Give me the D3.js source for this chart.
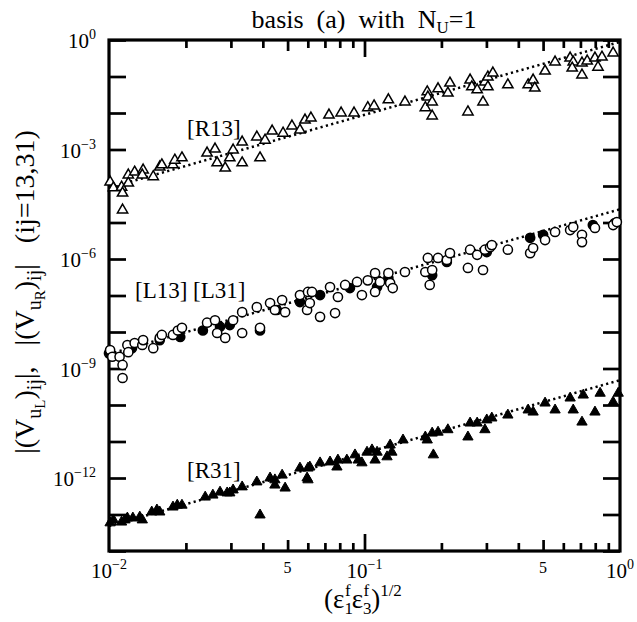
<!DOCTYPE html>
<html>
<head>
<meta charset="utf-8">
<script src="https://cdn.jsdelivr.net/npm/d3@7"></script>
<style>
  body { margin: 0; background: #fff; }
  text { font-family: "Liberation Serif", "Times New Roman", serif; fill: #000; }
</style>
</head>
<body>
<svg id="chart" width="637" height="622"></svg>
<script>
// [x, |V|] pairs
const r13 = [
  [0.0101,1.29e-4],[0.0104,8.9e-5],[0.0112,9.3e-5],[0.0113,6.4e-5],[0.0113,2.2e-5],[0.0119,2.0e-4],
  [0.0119,1.2e-4],[0.0126,2.4e-4],[0.0136,2.75e-4],[0.0135,2.0e-4],[0.0149,1.8e-4],[0.0158,3.3e-4],
  [0.0161,3.8e-4],[0.0178,3.8e-4],[0.0181,5.1e-4],[0.0193,5.9e-4],[0.0242,8.0e-4],[0.0260,1.03e-3],
  [0.0265,4.3e-4],[0.0285,3.1e-4],[0.0297,5.9e-4],[0.0306,9.7e-4],[0.0332,1.6e-3],[0.0332,4.3e-4],
  [0.0379,2.2e-3],[0.039,5.9e-4],[0.0408,1.8e-3],[0.0435,3.2e-3],[0.048,2.8e-3],[0.052,4.4e-3],
  [0.0559,3.4e-3],[0.0585,6.4e-3],
  [0.0617,7.3e-3],[0.0726,8.8e-3],[0.081,1.0e-2],[0.091,1.0e-2],[0.103,1.4e-2],[0.109,1.56e-2],[0.124,2.3e-2],
  [0.144,2.0e-2],[0.176,3.8e-2],[0.177,2.75e-2],[0.173,1.4e-2],[0.184,2.0e-2],[0.184,8.3e-3],
  [0.194,4.6e-2],[0.212,3.5e-2],[0.216,6.6e-2],[0.254,1.07e-2],[0.259,8.0e-2],[0.263,5.2e-2],
  [0.276,4.3e-2],[0.291,2.0e-2],[0.296,7.1e-2],[0.304,5.2e-2],[0.304,9.7e-2],[0.318,0.125],
  [0.364,5.9e-2],[0.437,5.9e-2],[0.457,8.0e-2],[0.464,4.8e-2],[0.509,0.141],[0.557,0.25],
  [0.638,0.32],[0.656,0.25],[0.65,0.17],[0.71,0.235],[0.71,0.11],[0.744,0.266],[0.798,0.32],
  [0.82,0.18],[0.85,0.34],[0.94,0.44]
];
const l13 = [
  [0.0101,3.2e-9],[0.0103,2.1e-9],[0.0110,2.1e-9],[0.0113,1.25e-9],[0.0113,5.5e-10],[0.0118,4.4e-9],
  [0.0119,2.8e-9],[0.0126,5.0e-9],[0.0135,4.4e-9],[0.0136,6.0e-9],[0.0149,3.6e-9],[0.0158,6.9e-9],
  [0.0161,8.3e-9],[0.0178,8.3e-9],[0.0186,1.1e-8],[0.0193,1.3e-8],[0.0242,1.8e-8],[0.0260,2.1e-8],
  [0.0265,9.4e-9],[0.0285,6.9e-9],[0.0306,2.1e-8],[0.0332,3.5e-8],[0.0332,9.4e-9],[0.0379,4.8e-8],
  [0.039,1.3e-8],[0.0427,6.2e-8],[0.0446,4.0e-8],[0.0476,7.5e-8],[0.0489,3.5e-8],[0.0559,1.03e-7],
  [0.0596,4.0e-8],[0.0601,1.25e-7],[0.0623,1.25e-7],[0.0611,6.2e-8],[0.067,2.6e-8],[0.0767,3.3e-8],
  [0.0733,1.7e-7],[0.0787,9.1e-8],[0.084,1.95e-7],[0.0935,2.35e-7],[0.0977,1.03e-7],[0.103,2.6e-7],
  [0.110,1.25e-7],[0.110,4.1e-7],[0.115,2.35e-7],[0.124,4.1e-7],[0.126,2.2e-7],[0.129,1.6e-7],
  [0.144,4.4e-7],[0.173,4.4e-7],[0.177,1.07e-6],[0.184,5.0e-7],[0.180,1.95e-7],[0.194,1.07e-6],
  [0.21,9.4e-7],[0.216,1.45e-6],[0.254,5.7e-7],[0.259,1.8e-6],[0.276,1.3e-6],[0.291,5.0e-7],
  [0.296,1.8e-6],[0.31,2.1e-6],[0.315,2.4e-6],[0.364,1.8e-6],[0.445,1.45e-6],[0.457,2.0e-6],
  [0.509,3.3e-6],[0.557,5.5e-6],[0.638,6.2e-6],[0.656,7.5e-6],[0.71,4.6e-6],[0.71,2.9e-6],
  [0.798,7.1e-6],[0.94,8.5e-6],[0.972,1.03e-5]
];
const l31 = [
  [0.0100,2.6e-9],[0.0123,3.6e-9],[0.0158,6.0e-9],[0.019,7.3e-9],[0.0233,1.1e-8],[0.0272,1.4e-8],
  [0.0297,1.55e-8],[0.039,1.1e-8],[0.0454,4.0e-8],[0.0559,6.6e-8],[0.067,1.03e-7],[0.0877,1.6e-7],
  [0.112,1.7e-7],[0.124,3.0e-7],[0.184,3.6e-7],[0.21,8.3e-7],[0.301,1.55e-6],[0.445,3.8e-6],
  [0.50,4.6e-6],[0.783,8.5e-6],[0.954,9.7e-6]
];
const r31 = [
  [0.0101,5.9e-14],[0.0104,7.1e-14],[0.0112,6.2e-14],[0.01155,7.1e-14],[0.0118,8.0e-14],[0.0124,8.0e-14],
  [0.0132,8.5e-14],[0.0135,7.1e-14],[0.0147,1.17e-13],[0.0154,1.33e-13],[0.0158,1.17e-13],[0.0178,1.6e-13],
  [0.0185,1.8e-13],[0.0193,1.8e-13],[0.0238,3.0e-13],[0.0255,3.4e-13],[0.0272,4.1e-13],[0.029,3.9e-13],
  [0.0297,3.9e-13],[0.0306,4.7e-13],[0.0332,5.7e-13],[0.0379,7.8e-13],[0.039,9.7e-14],[0.0427,1.0e-12],
  [0.0446,8.9e-13],[0.0446,6.4e-13],[0.0476,1.2e-12],[0.0489,5.3e-13],[0.0559,1.87e-12],[0.0596,1.0e-12],
  [0.0601,1.87e-12],[0.0611,2.0e-12],[0.0601,8.9e-13],[0.067,2.6e-12],[0.0733,2.75e-12],[0.078,2.0e-12],
  [0.0787,3.1e-12],[0.0853,3.1e-12],[0.0918,4.3e-12],[0.0945,3.1e-12],[0.0977,2.6e-12],[0.1023,5.1e-12],
  [0.107,5.9e-12],[0.112,5.1e-12],[0.110,3.1e-12],[0.1225,3.8e-12],[0.126,8.0e-12],[0.128,5.1e-12],
  [0.1415,1.1e-11],[0.173,1.33e-11],[0.176,1.1e-11],[0.184,1.7e-11],[0.186,4.3e-12],[0.194,1.8e-11],
  [0.212,2.1e-11],[0.254,1.33e-11],[0.259,3.2e-11],[0.276,3.2e-11],[0.296,2.1e-11],[0.301,3.9e-11],
  [0.315,4.4e-11],[0.364,5.3e-11],[0.437,7.3e-11],[0.457,6.4e-11],[0.509,1.13e-10],[0.557,7.3e-11],
  [0.638,1.55e-10],[0.656,7.3e-11],[0.71,3.4e-11],[0.718,1.87e-10],[0.798,6.4e-11],[0.836,2.1e-10],
  [0.94,1.2e-10],[0.984,2.1e-10]
];
// dotted guide lines (slope 2 in log-log)
const fitR13 = [[0.01, 8.9e-5], [1, 0.89]];
const fitL = [[0.01, 2.5e-9], [1, 2.3e-5]];
const fitR31 = [[0.01, 4.8e-14], [1, 4.8e-10]];

const xMinorTicks = [0.02,0.03,0.04,0.06,0.07,0.08,0.09,0.2,0.3,0.4,0.6,0.7,0.8,0.9];
const xMidTicks = [0.05, 0.5];
const xMajorTicks = [0.1];
const yTickValues = [1,1e-1,1e-2,1e-3,1e-4,1e-5,1e-6,1e-7,1e-8,1e-9,1e-10,1e-11,1e-12,1e-13,1e-14];
const xTickLabels = [{v:0.01,b:"10",e:"\u22122"},{v:0.05,b:"5"},{v:0.1,b:"10",e:"\u22121"},{v:0.5,b:"5"},{v:1,b:"10",e:"0"}];
const yTickLabels = [{v:1,e:"0"},{v:1e-3,e:"\u22123"},{v:1e-6,e:"\u22126"},{v:1e-9,e:"\u22129"},{v:1e-12,e:"\u221212"}];

const L = 109, R = 620, T = 40, B = 551;
const svg = d3.select("#chart");
const x = d3.scaleLog().domain([0.01, 1]).range([L, R]);
const y = d3.scaleLog().domain([1e-14, 1]).range([B, T]);

// ticks
function ticks(axis, vals, len, tr) {
  const g = svg.append("g").attr("transform", tr)
    .call(axis.tickValues(vals).tickSizeInner(-len).tickSizeOuter(0).tickFormat(""));
  g.select(".domain").remove();
  g.selectAll("line").attr("stroke", "#000").attr("stroke-width", 2.7);
}
[[xMinorTicks, 8], [xMidTicks, 11], [xMajorTicks, 17]].forEach(([v, n]) => {
  ticks(d3.axisBottom(x), v, n, `translate(0,${B})`);
  ticks(d3.axisTop(x), v, n, `translate(0,${T})`);
});
ticks(d3.axisLeft(y), yTickValues, 17, `translate(${L},0)`);
ticks(d3.axisRight(y), yTickValues, 17, `translate(${R},0)`);

svg.append("rect").attr("x", L).attr("y", T).attr("width", R - L).attr("height", B - T)
  .attr("fill", "none").attr("stroke", "#000").attr("stroke-width", 3.2);

// tick labels
xTickLabels.forEach(d => {
  const t = svg.append("text").attr("x", x(d.v)).attr("y", B + 27).attr("text-anchor", "middle");
  if (d.e) {
    t.append("tspan").attr("font-size", 21).text(d.b);
    t.append("tspan").attr("font-size", 14).attr("dy", -9).text(d.e);
  } else {
    t.attr("y", B + 22).append("tspan").attr("font-size", 16).text(d.b);
  }
});
yTickLabels.forEach(d => {
  const t = svg.append("text").attr("x", L - 13).attr("y", y(d.v) + 8).attr("text-anchor", "end");
  t.append("tspan").attr("font-size", 21).text("10");
  t.append("tspan").attr("font-size", 14).attr("dy", -9).text(d.e);
});

// dotted lines
const line = d3.line().x(d => x(d[0])).y(d => y(d[1]));
[fitR13, fitL, fitR31].forEach(f => {
  svg.append("path").attr("d", line(f)).attr("fill", "none").attr("stroke", "#000")
    .attr("stroke-width", 2.5).attr("stroke-dasharray", "2.2,3.3");
});

// markers
const tri = d3.symbol().type(d3.symbolTriangle).size(46);
svg.append("g").selectAll("path").data(r13).join("path")
  .attr("d", tri).attr("transform", d => `translate(${x(d[0])},${y(d[1])})`)
  .attr("fill", "#fff").attr("stroke", "#000").attr("stroke-width", 1.5);
svg.append("g").selectAll("path").data(r31).join("path")
  .attr("d", tri).attr("transform", d => `translate(${x(d[0])},${y(d[1])})`)
  .attr("fill", "#000").attr("stroke", "#000").attr("stroke-width", 1);
svg.append("g").selectAll("circle").data(l31).join("circle")
  .attr("cx", d => x(d[0])).attr("cy", d => y(d[1])).attr("r", 4.6)
  .attr("fill", "#000").attr("stroke", "#000").attr("stroke-width", 1.5);
svg.append("g").selectAll("circle").data(l13).join("circle")
  .attr("cx", d => x(d[0])).attr("cy", d => y(d[1])).attr("r", 4.6)
  .attr("fill", "#fff").attr("stroke", "#000").attr("stroke-width", 1.5);

// rich text helper: parts = [text, size, baseline shift, dx]
function rich(t, parts) {
  let prev = 0;
  parts.forEach(([s, size, sh, dx]) => {
    const sp = t.append("tspan").attr("font-size", size).attr("dy", sh - prev).text(s);
    if (dx) sp.attr("dx", dx);
    prev = sh;
  });
  return t;
}

// series labels
svg.append("text").attr("x", 187).attr("y", 136).attr("font-size", 23).text("[R13]");
svg.append("text").attr("x", 135).attr("y", 298).attr("font-size", 23).text("[L13] [L31]");
svg.append("text").attr("x", 187).attr("y", 478).attr("font-size", 23).text("[R31]");

// title
rich(svg.append("text").attr("x", 364).attr("y", 28).attr("text-anchor", "middle")
  .attr("xml:space", "preserve"),
  [["basis  (a)  with  N", 26, 0], ["U", 17, 5], ["=1", 26, 0]]);

// x axis title
rich(svg.append("text").attr("x", 363).attr("y", 608).attr("text-anchor", "middle"),
  [["(\u03b5", 27, 0], ["1", 17, 6], ["f", 17, -12, -8], ["\u03b5", 27, 0, 1], ["3", 17, 6], ["f", 17, -12, -8],
   [")", 27, 0, 2], ["1/2", 17, -12]]);

// y axis title
rich(svg.append("text").attr("transform", "translate(34,292) rotate(-90)").attr("text-anchor", "middle")
  .attr("xml:space", "preserve"),
  [["|(V", 28, 0], ["u", 20, 7], ["L", 15, 11], [")", 28, 0], ["ij", 20, 7], ["|,   |(V", 28, 0],
   ["u", 20, 7], ["R", 15, 11], [")", 28, 0], ["ij", 20, 7], ["|   (ij=13,31)", 28, 0]]);
</script>
</body>
</html>
